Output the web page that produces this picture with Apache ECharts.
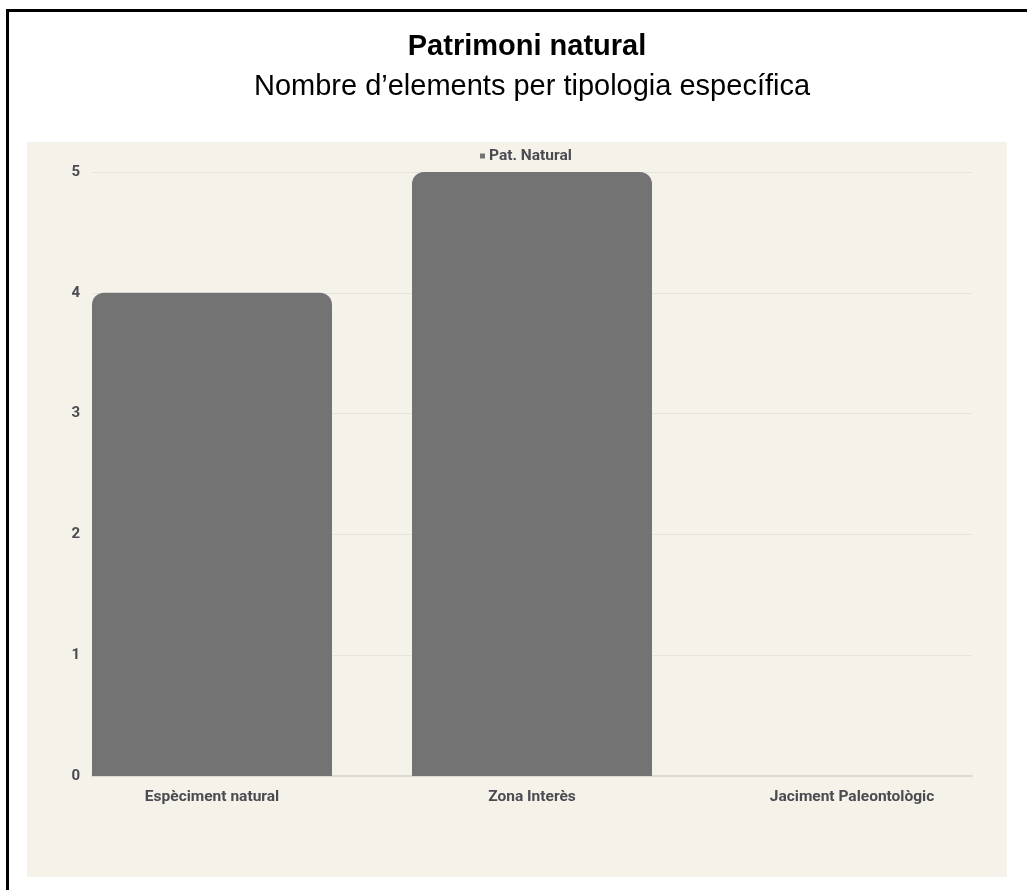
<!DOCTYPE html>
<html>
<head>
<meta charset="utf-8">
<script src="https://cdn.jsdelivr.net/npm/echarts@6/dist/echarts.min.js"></script>
<style>
html,body{margin:0;padding:0;background:#fff;}
#c{width:1027px;height:890px;}
</style>
</head>
<body>
<div id="c"></div>
<script>
var titleText = 'Patrimoni natural';
var subtitleText = 'Nombre d\u2019elements per tipologia espec\u00edfica';
var seriesName = 'Pat. Natural';
var categories = ['Esp\u00e8ciment natural', 'Zona Inter\u00e8s', 'Jaciment Paleontol\u00f2gic'];
var values = [4, 5, 0];
var yMin = 0, yMax = 5, yStep = 1;

var chart = echarts.init(document.getElementById('c'), null, {renderer: 'canvas'});
var labelColor = '#4d4a52';
var option = {
  backgroundColor: '#ffffff',
  animation: false,
  graphic: [
    {type: 'rect', shape: {x: 6, y: 9, width: 1030, height: 3}, style: {fill: '#000'}, z: -10},
    {type: 'rect', shape: {x: 6, y: 9, width: 3, height: 900}, style: {fill: '#000'}, z: -10},
    {type: 'rect', shape: {x: 27, y: 142, width: 980, height: 735}, style: {fill: '#f5f2ea'}, z: -10}
  ],
  title: [
    {text: titleText, left: 522, textAlign: 'center', top: 27,
     textStyle: {fontFamily: 'Liberation Sans', fontSize: 29, fontWeight: 'bold', color: '#000'}},
    {text: subtitleText, left: 527, textAlign: 'center', top: 67,
     textStyle: {fontFamily: 'Liberation Sans', fontSize: 29, fontWeight: 'normal', color: '#000'}}
  ],
  legend: {
    data: [seriesName], top: 143, left: 475,
    icon: 'rect', itemWidth: 5, itemHeight: 5, itemGap: 6,
    textStyle: {fontFamily: 'Roboto', fontSize: 15.5, fontWeight: 'bold', color: labelColor, padding: [0,0,0,-1]}
  },
  grid: [
    {left: 52, right: 15, top: 172, height: 604, containLabel: false},
    {left: 92, right: 55, top: 172, height: 604, containLabel: false}
  ],
  xAxis: [
    {type: 'category', gridIndex: 0, data: categories, boundaryGap: true,
     axisLine: {show: false}, axisTick: {show: false}, splitLine: {show: false},
     axisLabel: {margin: 13, fontFamily: 'Roboto', fontSize: 15.5, fontWeight: 'bold', color: labelColor}},
    {type: 'value', gridIndex: 1, min: 0, max: 1, show: true,
     axisLine: {show: true, onZero: false, lineStyle: {color: '#dcd9d3', width: 2}},
     axisTick: {show: false}, axisLabel: {show: false}, splitLine: {show: false}}
  ],
  yAxis: [
    {type: 'value', gridIndex: 0, min: yMin, max: yMax, interval: yStep, show: false},
    {type: 'value', gridIndex: 1, min: yMin, max: yMax, interval: yStep,
     axisLine: {show: false}, axisTick: {show: false},
     splitLine: {show: true, lineStyle: {color: '#e6e3dc', width: 1}},
     axisLabel: {margin: 12, fontFamily: 'Roboto', fontSize: 15, fontWeight: 'bold', color: labelColor}}
  ],
  series: [{
    name: seriesName, type: 'bar', xAxisIndex: 0, yAxisIndex: 0,
    data: values, barWidth: 240, z: 3,
    itemStyle: {color: '#737373', borderRadius: [12, 12, 0, 0]}
  }]
};
chart.setOption(option);
</script>
</body>
</html>
